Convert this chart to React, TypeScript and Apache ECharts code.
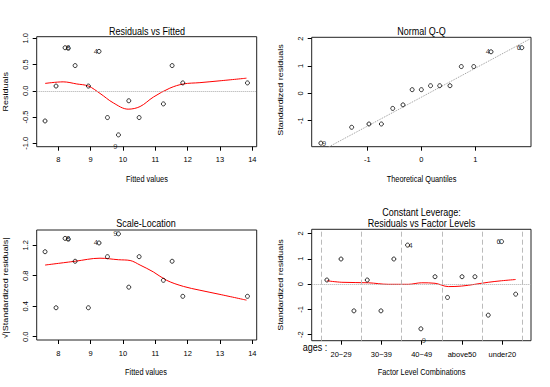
import React, { useEffect, useRef } from "react";
import * as echarts from "echarts";

// ---- Panel 1: Residuals vs Fitted ----
const fittedValues = [7.59, 7.93, 8.21, 8.31, 8.52, 8.93, 9.26, 9.52, 9.86, 10.18, 10.5, 11.25, 11.52, 11.85, 13.85];
const residuals = [-0.575, 0.09, 0.82, 0.81, 0.48, 0.09, 0.75, -0.51, -0.84, -0.19, -0.51, -0.25, 0.48, 0.15, 0.15];
const smoothResidX = [7.59, 8.15, 8.57, 8.93, 9.29, 9.7, 10.16, 10.53, 10.94, 11.45, 11.87, 12.38, 13.0, 13.82];
const smoothResidY = [0.14, 0.17, 0.13, 0.09, -0.05, -0.23, -0.35, -0.3, -0.12, 0.05, 0.13, 0.155, 0.19, 0.24];
const residLabelIdx = [2, 6, 8];
const residLabelIds = ["8", "4", "9"];

// ---- Panel 2: Normal Q-Q ----
const theoreticalQ = [-1.86, -1.29, -0.97, -0.74, -0.53, -0.34, -0.17, 0, 0.17, 0.34, 0.53, 0.74, 0.97, 1.29, 1.86];
const sortedStdResid = [-1.82, -1.24, -1.12, -1.12, -0.55, -0.42, 0.135, 0.135, 0.28, 0.28, 0.28, 0.98, 0.98, 1.52, 1.67];
const qqIntercept = -0.14;
const qqSlope = 1.06;
const qqLabelIdx = [0, 13, 14];
const qqLabelIds = ["9", "4", "6"];

// ---- Panel 3: Scale-Location ----
const sqrtStdResid = [1.115, 0.38, 1.29, 1.28, 0.99, 0.38, 1.23, 1.05, 1.35, 0.65, 1.05, 0.74, 0.99, 0.53, 0.53];
const smoothScaleX = [7.59, 8.52, 9.29, 9.86, 10.22, 10.53, 10.94, 11.35, 11.87, 12.38, 13.0, 13.82];
const smoothScaleY = [0.94, 0.99, 1.03, 1.01, 1.0, 0.94, 0.85, 0.74, 0.66, 0.61, 0.555, 0.48];
const scaleLabelIdx = [2, 6, 8];
const scaleLabelIds = ["8", "4", "9"];

// ---- Panel 4: Residuals vs Factor Levels ----
const ageLevels = ["20~29", "30~39", "40~49", "above50", "under20"];
const levelPositions = [0.65, 1.0, 1.32, 1.65, 1.99, 2.31, 2.65, 2.98, 3.33, 3.64, 4.0, 4.32, 4.65, 4.98, 5.33];
const levelStdResid = [0.16, 0.99, -1.06, 0.16, -1.06, 0.99, 1.54, -1.77, 0.29, -0.53, 0.29, 0.29, -1.23, 1.68, -0.4];
const smoothLevelX = [0.65, 1.02, 1.68, 2.17, 2.67, 3.0, 3.33, 3.66, 3.99, 4.32, 4.65, 4.98, 5.33];
const smoothLevelY = [0.13, 0.07, 0.05, -0.01, -0.01, 0.05, 0.03, -0.1, -0.08, -0.01, 0.07, 0.13, 0.18];
const levelDividers = [0.5, 1.5, 2.5, 3.5, 4.5, 5.5];
const levelLabelIdx = [6, 7, 13];
const levelLabelIds = ["4", "9", "6"];

// ---- Tick values ----
const xTicksFitted = [8, 9, 10, 11, 12, 13, 14];
const yTicksResid = [-1, -0.5, 0, 0.5, 1];
const xTicksQ = [-1, 0, 1];
const yTicksQ = [-1, 0, 1, 2];
const yTicksScale = [0, 0.4, 0.8, 1.2];
const xTicksLevel = [1, 2, 3, 4, 5];
const yTicksLevel = [-2, -1, 0, 1, 2];

const FONT = '"Liberation Sans", Arial, sans-serif';
const NARROW = 0.82;
const TICK_FONT = 7.5;

function xAx(gridIndex: number, min: number, max: number, ticks: number[], fmt: (v: number) => string, margin = 9) {
  return {
    type: "value", gridIndex, min, max,
    axisLine: { show: false, onZero: false }, splitLine: { show: false },
    axisTick: { show: true, length: 4, lineStyle: { color: "#000", width: 1 }, customValues: ticks },
    axisLabel: { customValues: ticks, formatter: fmt, fontSize: TICK_FONT, fontFamily: FONT, color: "#000", margin },
  };
}
function yAx(gridIndex: number, min: number, max: number, ticks: number[], fmt: (v: number) => string) {
  return {
    type: "value", gridIndex, min, max,
    axisLine: { show: false, onZero: false }, splitLine: { show: false },
    axisTick: { show: true, length: 4, lineStyle: { color: "#000", width: 1 }, customValues: ticks },
    axisLabel: { customValues: ticks, formatter: fmt, fontSize: TICK_FONT, fontFamily: FONT, color: "#000", margin: 7, rotate: 90 },
  };
}

function points(idx: number, xs: number[], ys: number[]) {
  return {
    type: "scatter", xAxisIndex: idx, yAxisIndex: idx,
    data: xs.map((x, i) => [x, ys[i]]),
    symbol: "circle", symbolSize: 4,
    itemStyle: { color: "rgba(0,0,0,0)", borderColor: "#000", borderWidth: 1 },
    silent: true, z: 5,
  };
}
function redSmooth(idx: number, xs: number[], ys: number[]) {
  return {
    type: "line", xAxisIndex: idx, yAxisIndex: idx,
    data: xs.map((x, i) => [x, ys[i]]),
    showSymbol: false, smooth: 0.35,
    lineStyle: { color: "#ff0000", width: 1 }, silent: true, z: 4,
  };
}
function idLabels(idx: number, xs: number[], ys: number[], which: number[], ids: string[], placement: any[]) {
  return {
    type: "scatter", xAxisIndex: idx, yAxisIndex: idx, symbolSize: 0, silent: true, z: 6,
    data: which.map((k, j) => ({
      value: [xs[k], ys[k]],
      name: ids[j],
      label: { show: true, formatter: "{b}", fontSize: 7.5, fontFamily: FONT, color: "#000", ...placement[j] },
    })),
  };
}

function txt(text: string, x: number, y: number, size: number, rot = 0) {
  const vertical = rot !== 0;
  return {
    type: "text", x, y, rotation: rot, silent: true,
    scaleX: vertical ? 1 : NARROW,
    scaleY: vertical ? NARROW : 1,
    style: {
      text, fill: "#000", font: `${size}px ${FONT}`,
      textAlign: "center", textVerticalAlign: "middle", align: "center", verticalAlign: "middle",
    },
  };
}

export default function App() {
  const ref = useRef<HTMLDivElement>(null);
  useEffect(() => {
    if (!ref.current) return;
    const chart = echarts.init(ref.current, undefined, { renderer: "svg" });
    const f1 = (v: number) => v.toFixed(1);
    const f0 = (v: number) => String(v);
    const gridStyle = { show: true, borderColor: "#222", borderWidth: 1, backgroundColor: "transparent", containLabel: false };
    const qqXmin = -2.03, qqXmax = 2.03;
    const option: any = {
      animation: false,
      backgroundColor: "#fff",
      grid: [
        { ...gridStyle, left: 36.7, top: 36.7, width: 220, height: 110 },
        { ...gridStyle, left: 311.7, top: 37.3, width: 219.3, height: 109.4 },
        { ...gridStyle, left: 36.7, top: 230, width: 220, height: 110 },
        { ...gridStyle, left: 311.7, top: 229.3, width: 219.3, height: 111.4 },
      ],
      xAxis: [
        xAx(0, 7.332, 14.136, xTicksFitted, f0),
        xAx(1, qqXmin, qqXmax, xTicksQ, f0),
        xAx(2, 7.332, 14.136, xTicksFitted, f0),
        xAx(3, 0.273, 5.71, xTicksLevel, (v: number) => ageLevels[Math.round(v) - 1], 10),
      ],
      yAxis: [
        yAx(0, -1.065, 1.03, yTicksResid, f1),
        yAx(1, -1.95, 2.05, yTicksQ, f0),
        yAx(2, -0.043, 1.40, yTicksScale, f1),
        yAx(3, -2.24, 2.165, yTicksLevel, f0),
      ],
      series: [
        // Panel 1
        {
          ...redSmooth(0, smoothResidX, smoothResidY),
          markLine: {
            silent: true, symbol: "none", label: { show: false },
            lineStyle: { color: "#aaa", type: "dotted", width: 1 },
            data: [{ yAxis: 0 }],
          },
        },
        points(0, fittedValues, residuals),
        idLabels(0, fittedValues, residuals, residLabelIdx, residLabelIds, [
          { position: "right", distance: 1 },
          { position: "left", distance: 1 },
          { position: "bottom", distance: 8, offset: [-3, 0] },
        ]),
        // Panel 2
        {
          type: "line", xAxisIndex: 1, yAxisIndex: 1, showSymbol: false, silent: true, clip: true,
          data: [qqXmin, qqXmax].map((x) => [x, qqIntercept + qqSlope * x]),
          lineStyle: { color: "#999", type: "dotted", width: 1 }, z: 3,
        },
        points(1, theoreticalQ, sortedStdResid),
        idLabels(1, theoreticalQ, sortedStdResid, qqLabelIdx, qqLabelIds, [
          { position: "right", distance: 1 },
          { position: "left", distance: 1 },
          { position: "left", distance: 1 },
        ]),
        // Panel 3
        redSmooth(2, smoothScaleX, smoothScaleY),
        points(2, fittedValues, sqrtStdResid),
        idLabels(2, fittedValues, sqrtStdResid, scaleLabelIdx, scaleLabelIds, [
          { position: "right", distance: 1 },
          { position: "left", distance: 1 },
          { position: "left", distance: 1 },
        ]),
        // Panel 4
        {
          ...redSmooth(3, smoothLevelX, smoothLevelY),
          markLine: {
            silent: true, symbol: "none", label: { show: false },
            data: [
              { yAxis: 0, lineStyle: { color: "#aaa", type: "dotted", width: 1 } },
              ...levelDividers.map((d) => ({ xAxis: d, lineStyle: { color: "#bbb", type: [5, 3], width: 1 } })),
            ],
          },
        },
        points(3, levelPositions, levelStdResid),
        idLabels(3, levelPositions, levelStdResid, levelLabelIdx, levelLabelIds, [
          { position: "right", distance: 1 },
          { position: "bottom", distance: 8, offset: [3, 0] },
          { position: "left", distance: 1 },
        ]),
      ],
      graphic: [
        txt("Residuals vs Fitted", 147, 30.7, 11),
        txt("Fitted values", 147, 179.3, 9),
        txt("Residuals", 6, 91.7, 9, Math.PI / 2),
        txt("Normal Q-Q", 421.5, 30.7, 11),
        txt("Theoretical Quantiles", 421.5, 179.3, 9),
        txt("Standardized residuals", 281, 90, 9, Math.PI / 2),
        txt("Scale-Location", 146, 223.3, 11),
        txt("Fitted values", 146, 372.7, 9),
        txt("\u221A|Standardized residuals|", 6, 288, 9, Math.PI / 2),
        txt("Constant Leverage:", 421.5, 212.5, 11),
        txt("Residuals vs Factor Levels", 421.5, 223.5, 11),
        txt("Factor Level Combinations", 421.5, 372.7, 9),
        txt("Standardized residuals", 281, 285, 9, Math.PI / 2),
        txt("ages :", 315, 346.7, 11),
      ],
    };
    chart.setOption(option);
    return () => chart.dispose();
  }, []);
  return <div ref={ref} style={{ position: "fixed", left: 0, top: 0, width: 550, height: 387 }} />;
}
